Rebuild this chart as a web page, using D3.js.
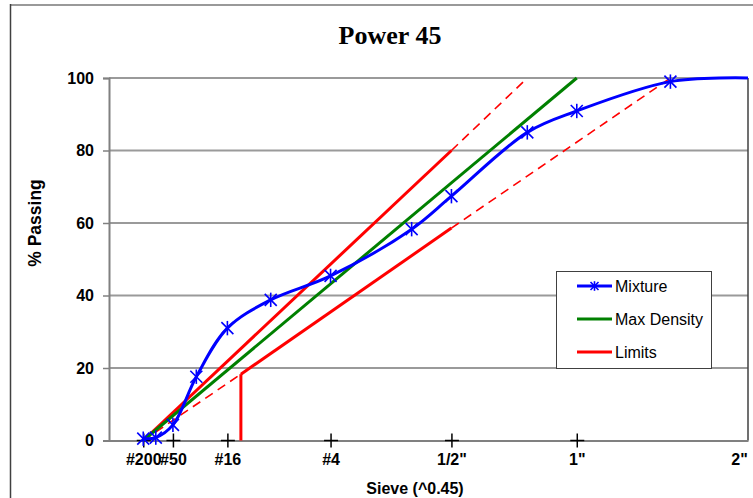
<!DOCTYPE html>
<html>
<head>
<meta charset="utf-8">
<script src="https://cdn.jsdelivr.net/npm/d3@7"></script>
<style>
  body { margin: 0; background: #fff; }
  svg { display: block; font-family: Arial, "Liberation Sans", sans-serif; }
</style>
</head>
<body>
<div id="chart"></div>
<script>
// sieve sizes in mm, plotted on size^0.45
const tickSizes = [0.075, 0.3, 1.18, 4.75, 12.5, 25, 50];
const tickLabels = ['#200', '#50', '#16', '#4', '1/2"', '1"', '2"'];

const mixSizes = [0.075, 0.15, 0.3, 0.6, 1.18, 2.36, 4.75, 9.5, 12.5, 19.5, 25, 37.5, 50];
const mixPassing = [0.5, 0.8, 4.3, 17.6, 31.0, 38.8, 45.4, 58.3, 67.4, 85.0, 90.9, 99.0, 100];

const densitySizes = [0.075, 25];
const densityPassing = [0, 100];

// limits: solid parts and dashed extensions
const upperSizes = [0.075, 12.5];
const upperPassing = [0, 80];
const upperExtSizes = [12.5, 19.5];
const upperExtPassing = [80, 100];

const lowerSizes = [1.5, 12.5];
const lowerPassing = [18.3, 58.6];
const lowerLowSizes = [0.075, 1.5];
const lowerLowPassing = [0, 18.3];
const lowerExtSizes = [12.5, 37.5];
const lowerExtPassing = [58.6, 100];
const stopSizes = [1.5, 1.5];
const stopPassing = [0, 18.3];

const yTicks = [0, 20, 40, 60, 80, 100];

const width = 753, height = 498;
const plot = { left: 109, right: 748, top: 78, bottom: 440.5 };

const svg = d3.select('#chart').append('svg')
  .attr('width', width)
  .attr('height', height);

// chart border
svg.append('line').attr('x1', 10).attr('x2', width).attr('y1', 5).attr('y2', 5)
  .attr('stroke', '#999').attr('stroke-width', 2);
svg.append('line').attr('x1', 10.5).attr('x2', 10.5).attr('y1', 4).attr('y2', height)
  .attr('stroke', '#404040').attr('stroke-width', 1.5);

const x = d3.scalePow().exponent(0.45).domain([0, 50]).range([plot.left, plot.right]);
const y = d3.scaleLinear().domain([0, 100]).range([plot.bottom, plot.top]);

// gridlines
svg.append('g').selectAll('line')
  .data(yTicks.slice(1))
  .join('line')
  .attr('x1', plot.left).attr('x2', plot.right)
  .attr('y1', d => y(d)).attr('y2', d => y(d))
  .attr('stroke', '#9a9a9a').attr('stroke-width', 2);

// right border of plot area
svg.append('line').attr('x1', plot.right).attr('x2', plot.right)
  .attr('y1', plot.top).attr('y2', plot.bottom)
  .attr('stroke', '#404040').attr('stroke-width', 1.5);

// y axis
const yAxis = svg.append('g')
  .attr('transform', `translate(${plot.left},0)`)
  .call(d3.axisLeft(y).tickValues(yTicks).tickSize(6).tickPadding(9));
yAxis.select('.domain').attr('stroke', '#808080').attr('stroke-width', 2);
yAxis.selectAll('.tick line').attr('stroke', '#808080').attr('stroke-width', 1.5);
yAxis.selectAll('text').attr('fill', '#000').style('font-size', '16px').style('font-weight', 'bold');

// x axis
const xAxis = svg.append('g')
  .attr('transform', `translate(0,${plot.bottom})`)
  .call(d3.axisBottom(x).tickValues(tickSizes).tickFormat((d, i) => tickLabels[i]).tickSize(0).tickPadding(13));
xAxis.select('.domain').attr('stroke', '#808080').attr('stroke-width', 2);
xAxis.selectAll('text').attr('fill', '#000').style('font-size', '16px').style('font-weight', 'bold');
// last label sits at the right edge, keep it inside the page
xAxis.selectAll('.tick').filter(d => d === 50).select('text').attr('dx', -9);
// cross tick marks
const cross = xAxis.selectAll('.tick').filter(d => d < 50);
cross.append('line').attr('x1', -7).attr('x2', 7).attr('stroke', '#000').attr('stroke-width', 1.5);
cross.append('line').attr('y1', -7).attr('y2', 7).attr('stroke', '#000').attr('stroke-width', 1.5);

const line = d3.line().x(d => x(d[0])).y(d => y(d[1]));
const pairs = (s, p) => s.map((v, i) => [v, p[i]]);

function drawLine(s, p, color, w, dash) {
  svg.append('path')
    .datum(pairs(s, p))
    .attr('d', line)
    .attr('fill', 'none')
    .attr('stroke', color)
    .attr('stroke-width', w)
    .attr('stroke-dasharray', dash || null);
}

// limits
drawLine(upperExtSizes, upperExtPassing, '#ff0000', 1.6, '9,6');
drawLine(lowerLowSizes, lowerLowPassing, '#ff0000', 1.6, '9,6');
drawLine(lowerExtSizes, lowerExtPassing, '#ff0000', 1.6, '9,6');
drawLine(upperSizes, upperPassing, '#ff0000', 3);
drawLine(lowerSizes, lowerPassing, '#ff0000', 3);
drawLine(stopSizes, stopPassing, '#ff0000', 3);

// max density
drawLine(densitySizes, densityPassing, '#008000', 3);

// mixture
svg.append('path')
  .datum(pairs(mixSizes, mixPassing))
  .attr('d', d3.line().x(d => x(d[0])).y(d => y(d[1])).curve(d3.curveCatmullRom.alpha(0.5)))
  .attr('fill', 'none')
  .attr('stroke', '#0000ff')
  .attr('stroke-width', 3);

function star(g, s) {
  g.append('line').attr('x1', -s).attr('x2', s).attr('y1', -s).attr('y2', s);
  g.append('line').attr('x1', -s).attr('x2', s).attr('y1', s).attr('y2', -s);
  g.append('line').attr('y1', -s * 1.2).attr('y2', s * 1.2);
  g.attr('stroke', '#0000ff').attr('stroke-width', 1.6);
}

svg.append('g').selectAll('g')
  .data(pairs(mixSizes, mixPassing).slice(0, -1))
  .join('g')
  .attr('transform', d => `translate(${x(d[0])},${y(d[1])})`)
  .each(function () { star(d3.select(this), 6); });

// title and axis titles
svg.append('text')
  .attr('x', 390).attr('y', 44)
  .attr('text-anchor', 'middle')
  .style('font-family', '"Liberation Serif", "Times New Roman", serif')
  .style('font-size', '26px').style('font-weight', 'bold')
  .text('Power 45');

svg.append('text')
  .attr('transform', 'translate(41,223) rotate(-90)')
  .attr('text-anchor', 'middle')
  .style('font-size', '17.5px').style('font-weight', 'bold')
  .text('% Passing');

svg.append('text')
  .attr('x', 415).attr('y', 494)
  .attr('text-anchor', 'middle')
  .style('font-size', '16px').style('font-weight', 'bold')
  .text('Sieve (^0.45)');

// legend
const legend = svg.append('g');
legend.append('rect')
  .attr('x', 556.5).attr('y', 271.5).attr('width', 155).attr('height', 97)
  .attr('fill', '#fff').attr('stroke', '#404040').attr('stroke-width', 1);

const legendNames = ['Mixture', 'Max Density', 'Limits'];
const legendColors = ['#0000ff', '#008000', '#ff0000'];
legendNames.forEach((name, i) => {
  const ly = 286 + i * 33;
  legend.append('line')
    .attr('x1', 577).attr('x2', 612).attr('y1', ly).attr('y2', ly)
    .attr('stroke', legendColors[i]).attr('stroke-width', 3);
  if (i === 0) {
    const m = legend.append('g').attr('transform', `translate(594.5,${ly})`);
    star(m, 4);
  }
  legend.append('text')
    .attr('x', 615).attr('y', ly + 6)
    .style('font-size', '16px')
    .text(name);
});
</script>
</body>
</html>
